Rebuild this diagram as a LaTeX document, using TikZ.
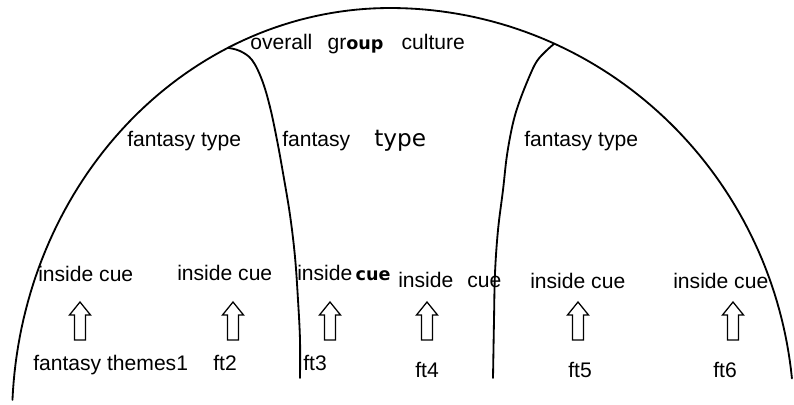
\documentclass[tikz,border=0pt]{standalone}
\usepackage{fontspec}
\setmainfont{Liberation Sans}
\newfontfamily\handfont{DejaVu Sans}
\newcommand\handbold{\handfont\bfseries\fontsize{12.5}{14}\selectfont}
\newcommand\handbig{\handfont\fontsize{16.5}{19}\selectfont}

\tikzset{
  lbl/.style={anchor=base west, inner sep=0pt, font=\fontsize{15}{18}\selectfont},
  rim/.style={line width=1.3pt, line join=round, line cap=round},
  pics/uparrow/.style={code={
    \draw[line width=0.9pt] (-5.5,0) -- (-5.5,-25) -- (-10.5,-25) -- (0,-38)
      -- (10.5,-25) -- (5.5,-25) -- (5.5,0) -- cycle;}}
}

\begin{document}
\begin{tikzpicture}[x=0.025cm, y=-0.025cm]
  \useasboundingbox (0,0) rectangle (794,405);
  % outer arc, a bit wider on the right
  \draw[rim] plot[domain=177.2:90, samples=70] ({390+378*cos(\x)},{420-412*sin(\x)})
    -- plot[domain=90:5.8, samples=70] ({390+404*cos(\x)},{420-412*sin(\x)});
  \coordinate (jl) at ({390+378*cos(115.4)},{420-412*sin(115.4)});
  \coordinate (jr) at ({390+404*cos(66)},{420-412*sin(66)});
  % left and right fantasy type borders
  \draw[rim] plot[smooth, tension=0.6] coordinates {(jl) (240,51) (252,60) (262,80)
    (270,107) (277,140) (283,173) (290,215) (295,257) (298,300) (300,340) (300,378)};
  \draw[rim] plot[smooth, tension=0.6] coordinates {(jr) (546,51) (537,61) (530,75)
    (520,100) (513,123) (507,155) (503,190) (498,230) (495,273) (494,320) (493,378)};
  % top and middle labels
  \node[lbl] (culture) at (250,50) {overall\hspace{0.38cm}gr{\handbold oup}\hspace{0.45cm}culture};
  \node[lbl] (ftype1) at (127,147) {fantasy type};
  \node[lbl] (ftype2) at (282,147) {fantasy\hspace{0.6cm}{\handbig type}};
  \node[lbl] (ftype3) at (524,147) {fantasy type};
  % inside cues
  \foreach \i/\x/\y/\name in {1/38/282/{inside cue}, 2/177/281/{inside cue},
      3/297/281/{inside\hspace{0.08cm}{\handbold cue}}, 4/398/288/{inside\hspace{0.35cm}cue},
      5/530/289/{inside cue}, 6/673/289/{inside cue}}
    \node[lbl] (cue\i) at (\x,\y) {\name};
  % fantasy themes
  \foreach \i/\x/\y/\name in {1/33/370/{fantasy themes1}, 2/213/370/ft2, 3/303/370/ft3,
      4/415/377/ft4, 5/568/377/ft5, 6/713/377/ft6}
    \node[lbl] (ft\i) at (\x,\y) {\name};
  % arrows
  \foreach \i/\x in {1/80, 2/233, 3/330, 4/427, 5/578, 6/733}
    \pic (arr\i) at (\x,340) {uparrow};
\end{tikzpicture}
\end{document}
